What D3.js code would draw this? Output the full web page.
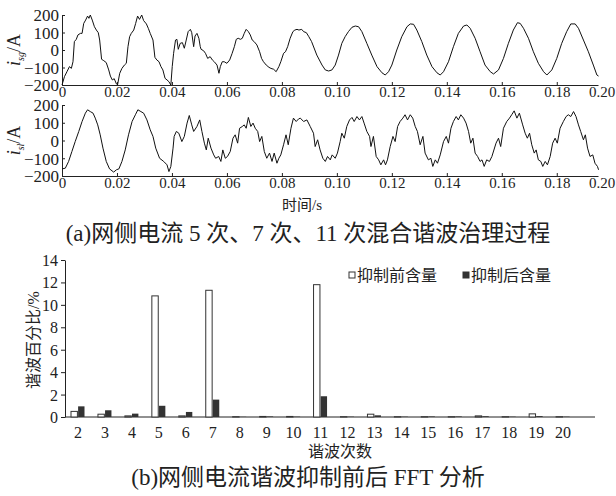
<!DOCTYPE html>
<html>
<head>
<meta charset="utf-8">
<script src="https://cdn.jsdelivr.net/npm/d3@7"></script>
<style>
  body { margin: 0; background: #fff; }
  svg { display: block; }
  text { fill: #222; }
</style>
</head>
<body>
<svg id="chart" width="616" height="496"></svg>
<script>
// grid side current (upper trace), [time ms, current A]
const gridCurrent = [[0,-200],[0.9,-152],[1.8,-124],[2.7,-95],[3.4,-105],[4.0,-67],[4.5,48],[5.2,61],[5.8,86],[6.7,95],[7.3,95],[7.9,152],[8.6,171],[9.3,194],[9.8,181],[10.3,200],[11.0,171],[11.8,133],[12.5,114],[13.2,99],[13.7,57],[14.4,-53],[15.2,-61],[16.1,-72],[17.0,-114],[17.6,-149],[18.3,-171],[19.0,-164],[19.8,-194],[20.2,-200],[21.0,-133],[21.8,-105],[22.7,-86],[23.4,-76],[24.0,19],[24.6,76],[25.2,95],[26.1,114],[26.8,152],[27.5,194],[28.2,175],[29.0,200],[29.7,168],[30.7,149],[31.4,124],[32.1,95],[33.1,57],[33.8,-42],[34.5,-57],[35.3,-67],[36.0,-95],[36.7,-114],[37.5,-162],[38.2,-171],[38.9,-181],[39.6,-200],[40.1,-95],[40.6,-19],[41.3,57],[41.8,61],[42.3,4],[43.0,38],[43.8,42],[44.5,10],[45.2,57],[45.9,105],[46.7,118],[47.2,99],[47.9,19],[48.4,80],[49.1,95],[49.8,67],[50.3,19],[50.6,4],[51.5,-4],[52.2,-19],[53.0,-48],[53.9,-38],[54.7,-57],[55.4,-67],[56.4,-86],[57.1,-133],[57.6,-95],[58.3,-67],[59.0,-67],[60.0,-76],[61.0,-57],[61.9,-19],[62.7,19],[63.4,61],[64.1,67],[64.9,61],[65.6,67],[66.3,95],[67.0,118],[67.8,105],[68.5,86],[69.2,57],[69.9,48],[70.9,29],[71.9,-10],[72.6,-48],[73.3,-67],[74.3,-86],[75.3,-99],[76.0,-105],[77.0,-110],[77.9,-124],[78.9,-95],[79.6,-67],[80.6,-19],[81.3,-10],[82.1,19],[83.0,67],[84.0,105],[84.7,114],[85.5,118],[86.2,114],[87.2,118],[87.9,105],[88.9,99],[89.8,76],[90.8,48],[92.7,-29],[94.6,-86],[95.8,-114],[97.0,-120],[98.2,-114],[99.4,-86],[100.6,-29],[101.8,38],[103.0,76],[104.2,105],[105.5,130],[106.7,137],[107.9,133],[109.1,105],[110.9,38],[112.7,-29],[114.6,-95],[116.4,-130],[117.6,-143],[118.8,-124],[120.0,-86],[121.8,0],[123.6,76],[125.5,133],[126.7,149],[127.9,147],[129.1,114],[130.9,48],[132.7,-29],[134.6,-95],[136.4,-130],[137.6,-143],[138.8,-124],[140.6,-67],[142.4,19],[144.2,95],[146.1,137],[147.3,143],[148.5,124],[150.3,67],[152.1,-10],[153.9,-86],[155.8,-124],[157.0,-137],[158.8,-114],[160.6,-48],[162.4,38],[164.2,114],[165.7,156],[166.7,152],[167.9,124],[169.7,67],[171.5,-10],[173.3,-76],[175.2,-124],[176.4,-143],[178.2,-114],[180.0,-48],[181.8,38],[183.6,105],[185.1,149],[186.7,149],[187.9,124],[189.7,57],[191.5,-10],[193.3,-86],[194.6,-143],[195.2,-149]];

// load side current (lower trace), [time ms, current A]
const loadCurrent = [[0,-160],[1.2,-156],[2.4,-118],[3.6,-62],[4.8,-6],[6.1,51],[7.3,107],[8.5,154],[9.3,173],[10.3,163],[11.3,154],[12.1,126],[13.0,88],[13.9,32],[14.9,-43],[16.1,-118],[17.3,-160],[18.8,-178],[19.8,-165],[20.7,-160],[21.8,-118],[23.0,-53],[24.2,32],[25.5,107],[26.7,145],[27.6,173],[28.7,163],[29.7,154],[30.9,116],[32.1,60],[33.1,23],[34.1,-43],[35.5,-100],[37.0,-118],[38.2,-137],[38.9,-175],[39.6,-146],[40.4,-43],[40.8,23],[41.6,51],[42.5,41],[43.6,-6],[44.5,23],[45.5,98],[46.3,141],[47.2,88],[47.9,51],[49.1,79],[50.1,116],[50.9,51],[51.8,-15],[52.5,-53],[53.2,13],[54.2,-43],[55.2,-81],[55.9,-100],[57.0,-90],[57.8,-118],[58.5,-53],[59.4,-100],[60.2,-90],[61.2,-62],[62.2,13],[63.0,32],[63.9,-15],[64.6,69],[65.6,79],[66.3,88],[67.0,69],[67.8,130],[68.7,79],[69.5,98],[70.3,69],[71.2,51],[71.9,-6],[72.7,23],[73.6,-62],[74.5,-100],[75.5,-71],[76.4,-118],[77.2,-71],[78.2,-128],[78.9,-100],[79.6,-81],[80.6,-24],[81.5,32],[82.3,-24],[83.3,69],[84.2,126],[85.2,107],[86.1,122],[86.7,126],[87.9,107],[89.1,116],[90.3,79],[91.5,41],[92.1,-34],[93.0,4],[93.9,-53],[94.9,-100],[95.8,-118],[96.6,-90],[97.6,-109],[98.3,-81],[99.4,-100],[100.2,-71],[101.2,-6],[101.8,41],[102.7,13],[103.6,79],[104.6,116],[105.5,130],[106.3,107],[107.3,135],[108.2,116],[109.1,135],[109.9,98],[110.9,51],[111.9,23],[112.4,-34],[113.3,23],[114.3,-90],[115.2,-109],[116.0,-137],[117.0,-109],[117.7,-137],[118.4,-109],[119.4,-34],[120.4,23],[121.2,-6],[122.1,79],[123.0,107],[124.0,126],[124.8,145],[125.7,116],[126.7,145],[127.6,126],[128.5,79],[129.3,51],[130.3,-24],[131.3,23],[132.1,-71],[133.3,-109],[134.2,-100],[134.9,-146],[135.8,-109],[136.6,-128],[137.6,-81],[138.8,-6],[139.8,23],[140.6,-15],[141.5,69],[142.4,107],[143.4,135],[144.2,116],[145.1,145],[146.1,126],[147.0,98],[147.9,51],[148.7,-15],[149.5,13],[150.3,-71],[151.2,-90],[152.1,-118],[152.8,-109],[153.6,-146],[154.5,-109],[155.5,-118],[156.4,-90],[157.9,-15],[158.8,13],[159.6,-34],[160.6,69],[161.8,107],[162.8,126],[163.6,145],[164.5,167],[165.5,126],[166.4,154],[167.6,88],[168.5,41],[169.3,13],[170.1,41],[170.9,-24],[171.8,-71],[172.5,-53],[173.3,-109],[174.2,-118],[174.9,-146],[175.8,-118],[176.6,-137],[177.6,-90],[178.5,-15],[179.4,13],[180.2,-15],[181.2,69],[182.4,107],[183.4,135],[184.2,145],[185.1,135],[186.1,163],[187.0,135],[187.9,88],[188.7,51],[189.7,4],[190.4,32],[191.2,-43],[192.1,-90],[193.1,-81],[193.9,-128],[194.8,-146],[195.2,-165]];

const currentTicks = [-200, -100, 0, 100, 200];
const timeTicks = [0, 0.02, 0.04, 0.06, 0.08, 0.10, 0.12, 0.14, 0.16, 0.18];
const timeEndLabel = "0.20";

// FFT bars
const harmonicOrder = [2, 3, 4, 5, 6, 7, 8, 9, 10, 11, 12, 13, 14, 15, 16, 17, 18, 19, 20];
const beforeRatio = [0.5, 0.25, 0.1, 10.8, 0.1, 11.3, 0.03, 0.05, 0.05, 11.8, 0.03, 0.25, 0.03, 0.03, 0.03, 0.1, 0.03, 0.28, 0.03];
const afterRatio = [0.95, 0.6, 0.3, 1.0, 0.45, 1.55, 0.02, 0.05, 0.03, 1.85, 0.03, 0.15, 0.03, 0.05, 0.05, 0.07, 0.03, 0.08, 0.03];
const ratioTicks = [0, 2, 4, 6, 8, 10, 12, 14];
const seriesNames = ["抑制前含量", "抑制后含量"];

const numFont = "'Liberation Serif', 'Noto Sans CJK SC', serif";
const cjkFont = "'Liberation Serif', 'Noto Sans CJK SC', sans-serif";
const ink = "#222";

const svg = d3.select("#chart");

// ---------- waveforms ----------
let x = d3.scaleLinear().domain([0, 0.195]).range([62, 598]);

function drawWave(data, top, bottom, sub) {
    let y = d3.scaleLinear().domain([-200, 200]).range([bottom, top]);
    let g = svg.append("g");

    let yAxis = g.append("g")
        .attr("transform", "translate(62,0)")
        .call(d3.axisLeft(y).tickValues(currentTicks).tickSizeInner(-3).tickSizeOuter(0).tickPadding(3));
    let xAxis = g.append("g")
        .attr("transform", `translate(0,${bottom})`)
        .call(d3.axisBottom(x).tickValues(timeTicks).tickSizeInner(-3).tickSizeOuter(0).tickPadding(3)
            .tickFormat(d => d === 0 ? "0" : d3.format(".2f")(d)));
    [yAxis, xAxis].forEach(a => {
        a.selectAll("path,line").attr("stroke", ink);
        a.selectAll("text").attr("fill", ink);
    });
    yAxis.attr("font-family", numFont).attr("font-size", 17);
    xAxis.attr("font-family", numFont).attr("font-size", 15);
    yAxis.selectAll("text").attr("dy", "0.34em");
    xAxis.selectAll("text").attr("dy", "0.62em");

    g.append("text")
        .attr("x", x.range()[1] + 4)
        .attr("y", bottom + 3)
        .attr("dy", "0.62em")
        .attr("text-anchor", "middle")
        .attr("font-family", numFont).attr("font-size", 15)
        .text(timeEndLabel);

    let line = d3.line()
        .x(d => x(d[0] / 1000))
        .y(d => y(d[1]));
    g.append("path")
        .datum(data)
        .attr("fill", "none")
        .attr("stroke", "#111")
        .attr("stroke-width", 1)
        .attr("stroke-linejoin", "round")
        .attr("d", line);

    let lab = g.append("text")
        .attr("transform", `translate(20,${(top + bottom) / 2}) rotate(-90)`)
        .attr("text-anchor", "middle")
        .attr("font-family", numFont).attr("font-size", 18);
    lab.append("tspan").attr("font-style", "italic").text("i");
    lab.append("tspan").attr("font-size", 10).attr("font-style", "italic").attr("dy", 4).text(sub);
    lab.append("tspan").attr("dy", -4).text("/A");
}

drawWave(gridCurrent, 15, 85, "sg");
drawWave(loadCurrent, 105, 176, "sl");

svg.append("text")
    .attr("x", 302).attr("y", 205).attr("dy", "0.35em")
    .attr("text-anchor", "middle")
    .attr("font-family", cjkFont).attr("font-size", 15)
    .text("时间/s");

svg.append("text")
    .attr("x", 308).attr("y", 233).attr("dy", "0.35em")
    .attr("text-anchor", "middle")
    .attr("font-family", cjkFont).attr("font-size", 23)
    .text("(a)网侧电流 5 次、7 次、11 次混合谐波治理过程");

// ---------- FFT bar chart ----------
let xb = d3.scaleBand().domain(harmonicOrder).range([64.5, 64.5 + 19 * 26.95]).padding(0);
let xs = d3.scaleBand().domain([0, 1]).range([6.5, 20]).paddingInner(0.1);
let yb = d3.scaleLinear().domain([0, 14]).range([417, 260]);

let bars = svg.append("g");
let yAxisB = bars.append("g")
    .attr("transform", "translate(65,0)")
    .call(d3.axisLeft(yb).tickValues(ratioTicks).tickSizeInner(4).tickSizeOuter(0).tickPadding(3));
yAxisB.attr("font-family", numFont).attr("font-size", 16);
yAxisB.selectAll("path,line").attr("stroke", ink);
yAxisB.selectAll("text").attr("fill", ink).attr("dy", "0.34em");

bars.append("line")
    .attr("x1", 65).attr("x2", 595)
    .attr("y1", yb(0)).attr("y2", yb(0))
    .attr("stroke", ink);

bars.append("g")
    .attr("font-family", numFont).attr("font-size", 16)
    .attr("text-anchor", "middle")
    .selectAll("text")
    .data(harmonicOrder)
    .join("text")
    .attr("x", d => xb(d) + xb.bandwidth() / 2)
    .attr("y", 432).attr("dy", "0.35em")
    .text(d => d);

let series = [beforeRatio, afterRatio];
series.forEach((vals, s) => {
    bars.append("g")
        .selectAll("rect")
        .data(harmonicOrder)
        .join("rect")
        .attr("x", (d, i) => xb(d) + xs(s))
        .attr("width", xs.bandwidth())
        .attr("y", (d, i) => yb(vals[i]))
        .attr("height", (d, i) => yb(0) - yb(vals[i]))
        .attr("fill", s === 0 ? "#fff" : "#333")
        .attr("stroke", s === 0 ? "#333" : "none")
        .attr("stroke-width", s === 0 ? 1 : 0);
});

// axis titles
svg.append("text")
    .attr("transform", "translate(33,340) rotate(-90)")
    .attr("text-anchor", "middle")
    .attr("dy", "0.35em")
    .attr("font-family", cjkFont).attr("font-size", 16)
    .text("谐波百分比/%");

svg.append("text")
    .attr("x", 340).attr("y", 451).attr("dy", "0.35em")
    .attr("text-anchor", "middle")
    .attr("font-family", cjkFont).attr("font-size", 16)
    .text("谐波次数");

// legend
let legend = svg.append("g").attr("font-family", cjkFont).attr("font-size", 16);
[349, 463].forEach((lx, i) => {
    legend.append("rect")
        .attr("x", lx).attr("y", 272).attr("width", 6).attr("height", 6)
        .attr("fill", i === 0 ? "#fff" : "#333")
        .attr("stroke", "#333").attr("stroke-width", 1);
    legend.append("text")
        .attr("x", lx + 8).attr("y", 275).attr("dy", "0.35em")
        .text(seriesNames[i]);
});

svg.append("text")
    .attr("x", 308).attr("y", 477).attr("dy", "0.35em")
    .attr("text-anchor", "middle")
    .attr("font-family", cjkFont).attr("font-size", 23)
    .text("(b)网侧电流谐波抑制前后 FFT 分析");
</script>
</body>
</html>
